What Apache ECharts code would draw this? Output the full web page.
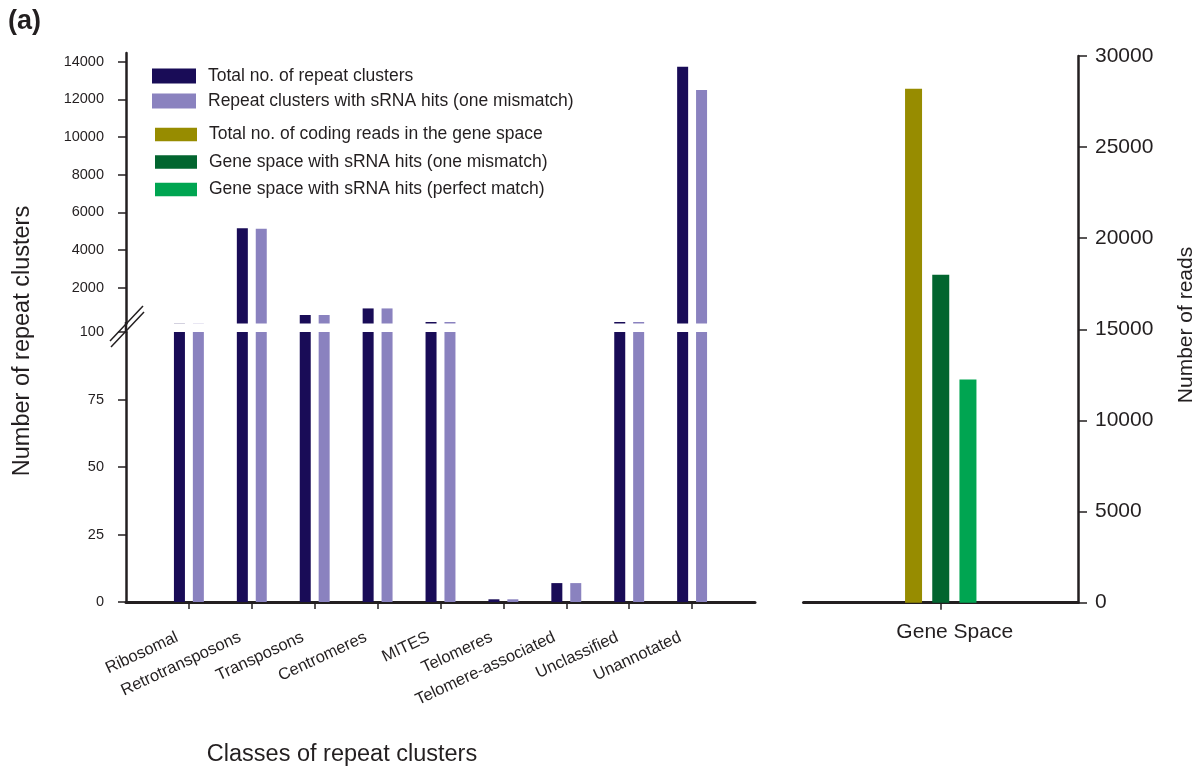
<!DOCTYPE html>
<html>
<head>
<meta charset="utf-8">
<script src="https://cdn.jsdelivr.net/npm/echarts@6/dist/echarts.min.js"></script>
<style>
  html, body { margin: 0; padding: 0; background: #fff; }
  #chart { width: 1203px; height: 770px; }
</style>
</head>
<body>
<div id="chart"></div>
<script>
// ---- data ----
var categories = ['Ribosomal', 'Retrotransposons', 'Transposons', 'Centromeres', 'MITES',
  'Telomeres', 'Telomere-associated', 'Unclassified', 'Unannotated'];
var totalRepeatClusters = [110, 5150, 550, 900, 180, 1, 7, 180, 13730];
var repeatClustersSRNA = [110, 5130, 550, 900, 180, 1, 7, 180, 12490];

var geneCategory = ['Gene Space'];
var geneTotalReads = [28200];
var geneOneMismatch = [18000];
var genePerfectMatch = [12250];

var upperTicks = [2000, 4000, 6000, 8000, 10000, 12000, 14000];

// ---- build ----
var font = 'Liberation Sans, Arial, Helvetica, sans-serif';
var axisData = [''].concat(categories).concat(['']);
function pad(arr) { return [null].concat(arr).concat([null]); }
function plain(v) { return String(v); }

var C_DARK = '#190c57', C_LIGHT = '#8a82bf', C_OLIVE = '#978c00', C_DGREEN = '#02652f', C_GREEN = '#00a551';
var AXIS = '#231f20';
var TXT = '#231f20';

var chart = echarts.init(document.getElementById('chart'), null, { renderer: 'canvas' });

var option = {
  backgroundColor: '#ffffff',
  animation: false,
  textStyle: { fontFamily: font },
  grid: [
    { left: 126, width: 629, top: 53, height: 270.5 },
    { left: 126, width: 629, top: 332, height: 270 },
    { left: 803.5, width: 274.5, top: 56, height: 546.7 }
  ],
  legend: [
    {
      left: 152, top: 67, orient: 'vertical', itemWidth: 44, itemHeight: 15, itemGap: 7,
      icon: 'rect', selectedMode: false, padding: 0,
      textStyle: { fontSize: 17.5, lineHeight: 15, color: TXT, fontFamily: font, padding: [0, 0, 0, 7] },
      data: ['Total no. of repeat clusters', 'Repeat clusters with sRNA hits (one mismatch)']
    },
    {
      left: 155, top: 125.5, orient: 'vertical', itemWidth: 42, itemHeight: 13.5, itemGap: 9.5,
      icon: 'rect', selectedMode: false, padding: 0,
      textStyle: { fontSize: 17.5, lineHeight: 13.5, color: TXT, fontFamily: font, padding: [0, 0, 0, 7] },
      data: ['Total no. of coding reads in the gene space', 'Gene space with sRNA hits (one mismatch)', 'Gene space with sRNA hits (perfect match)']
    }
  ],
  xAxis: [
    { gridIndex: 0, type: 'category', data: axisData, boundaryGap: false, show: false },
    {
      gridIndex: 1, type: 'category', data: axisData, boundaryGap: false,
      axisLine: { show: true, lineStyle: { color: AXIS, width: 3 } },
      axisTick: { show: true, length: 7, lineStyle: { color: AXIS, width: 1.5 },
        interval: function (i) { return i > 0 && i < axisData.length - 1; } },
      axisLabel: { interval: 0, rotate: 25, margin: 29, fontSize: 16.5, color: TXT, fontFamily: font,
        padding: [0, 13, 0, 0] }
    },
    {
      gridIndex: 2, type: 'category', data: geneCategory, boundaryGap: true,
      axisLine: { show: true, lineStyle: { color: AXIS, width: 3 } },
      axisTick: { show: true, alignWithLabel: true, length: 7, lineStyle: { color: AXIS, width: 1.5 } },
      axisLabel: { margin: 19, fontSize: 21, color: TXT, fontFamily: font, padding: [0, 0, 0, 28] }
    }
  ],
  yAxis: [
    {
      gridIndex: 0, type: 'value', min: 100, max: 14460, splitLine: { show: false },
      axisLine: { show: true, lineStyle: { color: AXIS, width: 2.5 } },
      axisTick: { show: true, length: 8, customValues: upperTicks, lineStyle: { color: AXIS, width: 1.5 } },
      axisLabel: { customValues: upperTicks, formatter: plain, fontSize: 14.5, color: TXT, margin: 22, fontFamily: font }
    },
    {
      gridIndex: 1, type: 'value', min: 0, max: 100, interval: 25, splitLine: { show: false },
      axisLine: { show: true, lineStyle: { color: AXIS, width: 2.5 } },
      axisTick: { show: true, length: 8, lineStyle: { color: AXIS, width: 1.5 } },
      axisLabel: { formatter: plain, fontSize: 14.5, color: TXT, margin: 22, fontFamily: font }
    },
    {
      gridIndex: 2, type: 'value', position: 'right', min: 0, max: 30000, interval: 5000, splitLine: { show: false },
      axisLine: { show: true, lineStyle: { color: AXIS, width: 2.5 } },
      axisTick: { show: true, length: 9, lineStyle: { color: AXIS, width: 1.5 } },
      axisLabel: { formatter: plain, fontSize: 21, color: TXT, margin: 17, fontFamily: font }
    }
  ],
  series: [
    { name: 'Total no. of repeat clusters', type: 'bar', xAxisIndex: 0, yAxisIndex: 0, data: pad(totalRepeatClusters),
      barWidth: 11, barGap: '72%', clip: true, itemStyle: { color: C_DARK } },
    { name: 'Repeat clusters with sRNA hits (one mismatch)', type: 'bar', xAxisIndex: 0, yAxisIndex: 0, data: pad(repeatClustersSRNA),
      barWidth: 11, barGap: '72%', clip: true, itemStyle: { color: C_LIGHT } },
    { name: 'Total no. of repeat clusters', type: 'bar', xAxisIndex: 1, yAxisIndex: 1, data: pad(totalRepeatClusters),
      barWidth: 11, barGap: '72%', clip: true, itemStyle: { color: C_DARK } },
    { name: 'Repeat clusters with sRNA hits (one mismatch)', type: 'bar', xAxisIndex: 1, yAxisIndex: 1, data: pad(repeatClustersSRNA),
      barWidth: 11, barGap: '72%', clip: true, itemStyle: { color: C_LIGHT } },
    { name: 'Total no. of coding reads in the gene space', type: 'bar', xAxisIndex: 2, yAxisIndex: 2, data: geneTotalReads,
      barWidth: 17, barGap: '60%', itemStyle: { color: C_OLIVE } },
    { name: 'Gene space with sRNA hits (one mismatch)', type: 'bar', xAxisIndex: 2, yAxisIndex: 2, data: geneOneMismatch,
      barWidth: 17, barGap: '60%', itemStyle: { color: C_DGREEN } },
    { name: 'Gene space with sRNA hits (perfect match)', type: 'bar', xAxisIndex: 2, yAxisIndex: 2, data: genePerfectMatch,
      barWidth: 17, barGap: '60%', itemStyle: { color: C_GREEN } }
  ],
  graphic: [
    { type: 'text', left: 8, top: 8, style: { text: '(a)', font: 'bold 27px ' + font, fill: TXT } },
    { type: 'text', x: 23, y: 341, rotation: Math.PI / 2,
      style: { text: 'Number of repeat clusters', font: '23.5px ' + font, fill: TXT, align: 'center', verticalAlign: 'middle' } },
    { type: 'text', x: 1186, y: 325, rotation: Math.PI / 2,
      style: { text: 'Number of reads', font: '21px ' + font, fill: TXT, align: 'center', verticalAlign: 'middle' } },
    { type: 'text', x: 342, y: 755,
      style: { text: 'Classes of repeat clusters', font: '23.5px ' + font, fill: TXT, align: 'center', verticalAlign: 'middle' } },
    { type: 'line', shape: { x1: 126, y1: 322, x2: 126, y2: 333 }, style: { stroke: AXIS, lineWidth: 2.5 } },
    { type: 'line', shape: { x1: 110, y1: 341, x2: 143, y2: 306 }, style: { stroke: AXIS, lineWidth: 1.5 } },
    { type: 'line', shape: { x1: 111, y1: 347, x2: 144, y2: 312 }, style: { stroke: AXIS, lineWidth: 1.5 } }
  ]
};
chart.setOption(option);
</script>
</body>
</html>
